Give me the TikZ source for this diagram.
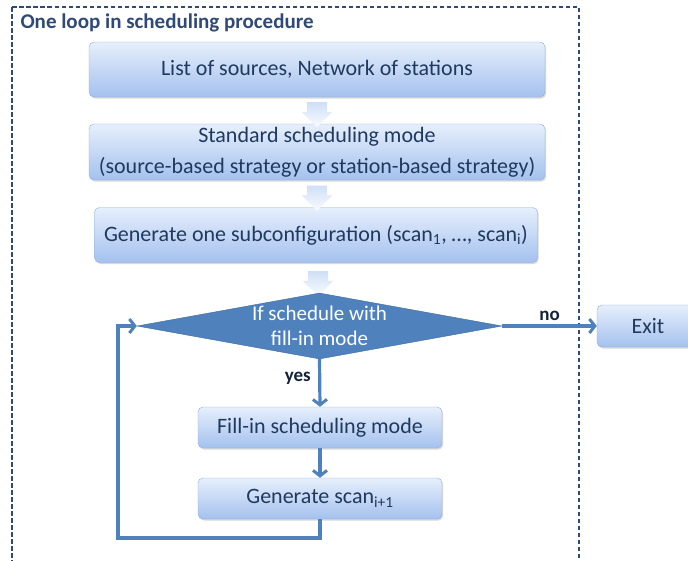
\documentclass[tikz,border=0pt]{standalone}
\usepackage{fontspec}
\setmainfont{Carlito}
\usetikzlibrary{positioning,shapes.geometric,shapes.arrows,arrows.meta,shadows}

\definecolor{flowblue}{HTML}{4F81BD}
\definecolor{flowedge}{HTML}{3C6AA3}
\definecolor{boxtop}{HTML}{E6EFFC}
\definecolor{boxbottom}{HTML}{A4C1EE}
\definecolor{boxedge}{HTML}{8DAEDD}
\definecolor{navy}{HTML}{1F3A5F}
\definecolor{framecolor}{HTML}{2F4A78}

\tikzset{
	stepbox/.style={draw=boxedge, rounded corners=5pt, top color=boxtop, bottom color=boxbottom,
		text=navy, align=center, inner sep=0pt, font=\fontsize{22}{31}\selectfont,
		drop shadow={opacity=0.3, shadow xshift=1.2pt, shadow yshift=-1.6pt}},
	blockarrow/.style={single arrow, shape border rotate=270, draw=none, inner sep=0pt,
		top color=boxtop!65!boxbottom, bottom color=white!80!boxtop,
		minimum height=25pt, single arrow head extend=5pt, text width=20pt},
	flow/.style={draw=flowblue, line width=3.2pt, -{Straight Barb[length=5.5pt, width=14pt, line width=3pt]}},
	choice/.style={font=\fontsize{19}{22}\selectfont\bfseries, text=navy!60!black},
}

\begin{document}
\begin{tikzpicture}[x=1pt, y=-1pt]
	\useasboundingbox (0,0) rectangle (688,560);
	\clip (0,0) rectangle (688,560);
	
	\draw[framecolor, line width=1.6pt, dash pattern=on 4.5pt off 2.5pt] (12,7) rectangle (579,580);
	\node[anchor=west, text=framecolor, font=\fontsize{21}{24}\selectfont\bfseries] (title) at (17,23) {One loop in scheduling procedure};
	
	\node[stepbox, minimum width=456pt, minimum height=55pt] (input) at (317,69.5) {List of sources, Network of stations};
	\node[stepbox, minimum width=456pt, minimum height=56pt] (standard) at (317,152) {Standard scheduling mode\\(source-based strategy or station-based strategy)};
	\node[stepbox, minimum width=443pt, minimum height=55pt] (subconf) at (316,235) {Generate one subconfiguration (scan\textsubscript{1}, …, scan\textsubscript{i})};
	
	\node[blockarrow] (arrowa) at (317,109.5) {};
	\node[blockarrow] (arrowb) at (317,193) {};
	\node[blockarrow] (arrowc) at (318,278.5) {};
	
	\node[diamond, draw=flowedge, fill=flowblue, inner sep=0pt, aspect=5.5, minimum width=365pt, minimum height=66pt] (check) at (319.5,326) {};
	\node[align=center, text=white, font=\fontsize{21}{25}\selectfont] (checktext) at (check.center) {If schedule with\\fill-in mode};
	
	\node[stepbox, minimum width=102pt, minimum height=42pt] (exit) at (648,326) {Exit};
	\node[stepbox, minimum width=244pt, minimum height=41pt] (fillin) at (320,427.5) {Fill-in scheduling mode};
	\node[stepbox, minimum width=244pt, minimum height=41pt] (genscan) at (320,498.5) {Generate scan\textsubscript{i+1}};
	
	\coordinate (loop) at (118,538);
	
	\draw[flow] (check.east) -- node[choice, above=0pt] {no} (exit.west);
	\draw[flow] (check.south) -- node[choice, left=4pt, pos=0.4] {yes} (fillin.north);
	\draw[flow] (fillin.south) -- (genscan.north);
	\draw[flow] (genscan.south) |- (loop) |- (check.west);
\end{tikzpicture}
\end{document}
